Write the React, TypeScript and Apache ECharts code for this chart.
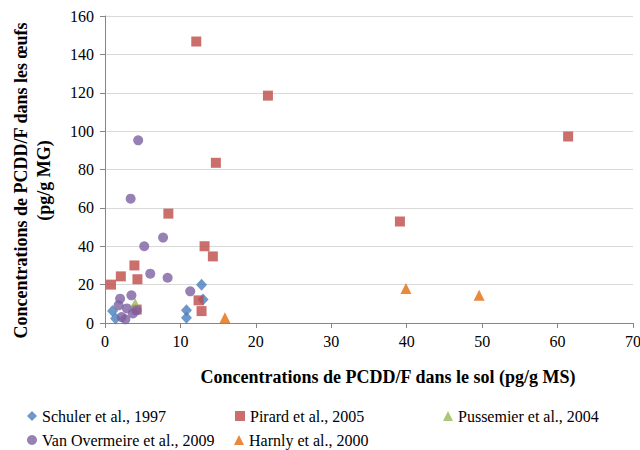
import React, { useEffect, useRef } from "react";
import * as echarts from "echarts";

const schuler: number[][] = [[1.0, 6.2], [1.4, 2.4], [10.8, 6.6], [10.8, 2.8], [12.8, 20], [13.0, 12.2]];
const pirard: number[][] = [
  [0.8, 20], [2.1, 24.3], [3.9, 30], [4.3, 22.8], [4.2, 7], [8.4, 57], [12.1, 146.7],
  [14.7, 83.5], [21.6, 118.5], [13.2, 40], [14.3, 34.7], [12.4, 11.8], [12.8, 6.2],
  [39.1, 52.9], [61.4, 97.2],
];
const pussemier: number[][] = [[4.0, 10.4]];
const vanOvermeire: number[][] = [
  [4.4, 95.2], [3.4, 64.8], [7.7, 44.5], [5.2, 40], [6.0, 25.7], [8.3, 23.6], [11.3, 16.5],
  [3.5, 14.4], [2.0, 12.7], [1.8, 9.2], [2.9, 7.6], [4.2, 6.6], [3.7, 5], [2.2, 3.1], [2.7, 1.9],
];
const harnly: number[][] = [[15.9, 2.8], [39.9, 18], [49.6, 14.4]];

const seriesNames = [
  "Schuler et al., 1997",
  "Pirard et al., 2005",
  "Pussemier et al., 2004",
  "Van Overmeire et al., 2009",
  "Harnly et al., 2000",
];

const FONT = "Liberation Serif";

export default function App() {
  const ref = useRef<HTMLDivElement>(null);
  useEffect(() => {
    if (!ref.current) return;
    const chart = echarts.init(ref.current, undefined, { renderer: "svg" });
    const legendPos = [
      { left: 27, top: 408 },
      { left: 235, top: 408 },
      { left: 443, top: 408 },
      { left: 27, top: 432 },
      { left: 234, top: 432 },
    ];
    chart.setOption({
      animation: false,
      backgroundColor: "#ffffff",
      textStyle: { fontFamily: FONT },
      grid: { left: 105, right: 7, top: 16, bottom: 127, containLabel: false, outerBoundsMode: "none" },
      legend: seriesNames.map((n, i) => ({
        data: [n],
        left: legendPos[i].left,
        top: legendPos[i].top,
        itemWidth: 10,
        itemHeight: 10,
        padding: 0,
        textStyle: { fontFamily: FONT, fontSize: 16, color: "#000" },
      })),
      xAxis: {
        type: "value",
        min: 0,
        max: 70,
        interval: 10,
        name: "Concentrations de PCDD/F dans le sol (pg/g MS)",
        nameLocation: "middle",
        nameGap: 45,
        nameTextStyle: { fontFamily: FONT, fontSize: 18, fontWeight: "bold", color: "#000", padding: [0, 0, 0, 38] },
        axisLine: { show: true, lineStyle: { color: "#868686" } },
        axisTick: { show: true, inside: false, length: 5, lineStyle: { color: "#868686" } },
        axisLabel: { fontFamily: FONT, fontSize: 16, color: "#000", margin: 10 },
        splitLine: { show: false },
      },
      yAxis: {
        type: "value",
        min: 0,
        max: 160,
        interval: 20,
        name: "Concentrations de PCDD/F dans les œufs\n(pg/g MG)",
        nameLocation: "middle",
        nameGap: 50,
        nameTextStyle: { fontFamily: FONT, fontSize: 18, fontWeight: "bold", color: "#000", lineHeight: 23, padding: [0, 22, 0, 0] },
        axisLine: { show: true, lineStyle: { color: "#868686" } },
        axisTick: { show: true, inside: false, length: 5, lineStyle: { color: "#868686" } },
        axisLabel: { fontFamily: FONT, fontSize: 16, color: "#000", margin: 11 },
        splitLine: { show: true, lineStyle: { color: "#d9d9d9" } },
      },
      series: [
        { name: seriesNames[0], type: "scatter", data: schuler, symbol: "diamond", symbolSize: [11, 12], itemStyle: { color: "#4A7EBB" } },
        { name: seriesNames[1], type: "scatter", data: pirard, symbol: "rect", symbolSize: 10, itemStyle: { color: "#BE4B48" } },
        { name: seriesNames[2], type: "scatter", data: pussemier, symbol: "triangle", symbolSize: 10, itemStyle: { color: "#98B954" } },
        { name: seriesNames[3], type: "scatter", data: vanOvermeire, symbol: "circle", symbolSize: 10, itemStyle: { color: "#7D60A0" } },
        { name: seriesNames[4], type: "scatter", data: harnly, symbol: "triangle", symbolSize: 11, itemStyle: { color: "#E46C0A" } },
      ],
    });
    return () => chart.dispose();
  }, []);
  return <div ref={ref} style={{ position: "fixed", left: 0, top: 0, width: 640, height: 450 }} />;
}
